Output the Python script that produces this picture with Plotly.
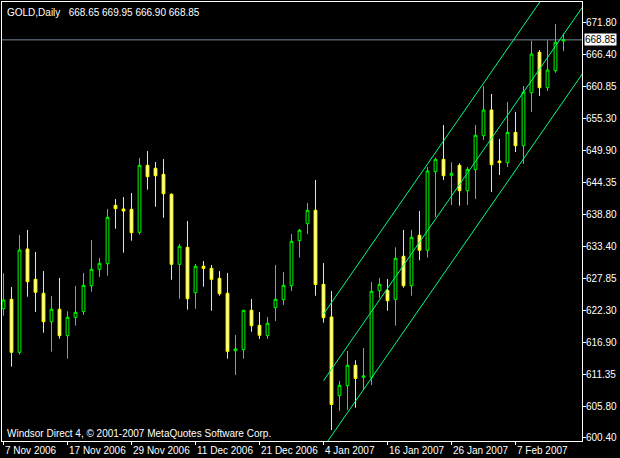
import plotly.graph_objects as go

# ---------------- data ----------------
dates = [
    "2006-11-07", "2006-11-08", "2006-11-09", "2006-11-10", "2006-11-13", "2006-11-14",
    "2006-11-15", "2006-11-16", "2006-11-17", "2006-11-20", "2006-11-21", "2006-11-22",
    "2006-11-23", "2006-11-24", "2006-11-27", "2006-11-28", "2006-11-29", "2006-11-30",
    "2006-12-01", "2006-12-04", "2006-12-05", "2006-12-06", "2006-12-07", "2006-12-08",
    "2006-12-11", "2006-12-12", "2006-12-13", "2006-12-14", "2006-12-15", "2006-12-18",
    "2006-12-19", "2006-12-20", "2006-12-21", "2006-12-22", "2006-12-26", "2006-12-27",
    "2006-12-28", "2006-12-29", "2007-01-02", "2007-01-03", "2007-01-04", "2007-01-05",
    "2007-01-08", "2007-01-09", "2007-01-10", "2007-01-11", "2007-01-12", "2007-01-15",
    "2007-01-16", "2007-01-17", "2007-01-18", "2007-01-19", "2007-01-22", "2007-01-23",
    "2007-01-24", "2007-01-25", "2007-01-26", "2007-01-29", "2007-01-30", "2007-01-31",
    "2007-02-01", "2007-02-02", "2007-02-05", "2007-02-06", "2007-02-07", "2007-02-08",
    "2007-02-09", "2007-02-12", "2007-02-13", "2007-02-14", "2007-02-15",
]

open_ = [
    622.63, 624.24, 615.13, 632.89, 627.68, 625.28, 620.39, 622.53, 617.99, 621.15,
    622.11, 626.58, 629.40, 630.36, 640.40, 639.77, 639.72, 635.76, 647.28, 646.77,
    645.73, 642.30, 630.26, 633.18, 625.38, 629.92, 629.57, 627.85, 625.28, 615.41,
    615.58, 622.35, 619.77, 617.99, 622.80, 624.18, 626.58, 634.32, 637.24, 639.55,
    626.82, 621.20, 607.67, 609.39, 612.90, 610.83, 610.83, 625.72, 625.79, 624.24,
    631.64, 626.58, 635.25, 632.67, 646.18, 648.31, 645.56, 647.28, 642.91, 646.53,
    652.37, 656.79, 648.02, 647.73, 652.95, 650.65, 659.76, 666.71, 660.62, 663.55,
    668.65,
]
high = [
    628.71, 626.36, 635.30, 636.16, 632.38, 629.11, 624.81, 627.91, 622.18, 626.53,
    628.77, 634.44, 631.34, 639.77, 641.49, 641.83, 642.52, 648.54, 649.74, 647.85,
    648.36, 642.47, 633.75, 637.71, 630.31, 630.83, 630.14, 629.11, 628.77, 618.11,
    622.40, 624.30, 622.06, 621.20, 630.14, 628.94, 635.47, 636.33, 640.80, 644.75,
    630.49, 625.67, 610.20, 615.36, 613.76, 615.87, 627.22, 627.91, 627.73, 633.18,
    636.16, 636.16, 639.42, 646.99, 648.59, 654.21, 647.80, 647.63, 646.99, 654.21,
    660.91, 659.54, 651.80, 658.16, 656.44, 660.91, 668.70, 667.10, 668.77, 671.57,
    669.95,
]
low = [
    621.42, 612.66, 614.72, 624.69, 622.06, 618.50, 615.24, 617.47, 614.03, 619.71,
    621.55, 625.55, 628.08, 628.30, 636.38, 632.26, 634.32, 635.35, 643.09, 640.16,
    638.27, 627.61, 624.35, 622.46, 622.63, 626.41, 622.28, 624.86, 614.03, 611.23,
    614.03, 618.67, 617.42, 617.42, 620.51, 623.26, 625.67, 631.40, 635.47, 624.86,
    620.22, 601.77, 605.04, 605.21, 605.61, 608.65, 609.51, 624.42, 622.28, 619.71,
    626.24, 624.86, 630.95, 631.40, 638.39, 644.75, 640.46, 640.34, 640.46, 641.49,
    651.63, 642.69, 645.61, 646.99, 649.57, 647.51, 656.44, 659.20, 660.06, 663.20,
    666.90,
]
close = [
    624.12, 615.13, 632.72, 627.27, 625.45, 620.39, 622.53, 617.99, 621.15, 622.01,
    626.65, 629.40, 630.43, 638.34, 639.82, 639.42, 635.69, 647.28, 645.32, 645.49,
    642.40, 630.26, 633.36, 624.35, 629.92, 629.57, 627.68, 625.21, 615.30, 615.70,
    622.35, 619.71, 618.06, 620.12, 624.24, 626.65, 634.22, 636.11, 639.55, 626.79,
    621.08, 606.16, 609.46, 612.90, 610.63, 611.06, 625.62, 626.82, 624.00, 631.29,
    626.58, 634.90, 632.67, 646.30, 648.31, 645.49, 645.91, 642.91, 646.59, 652.44,
    656.79, 647.38, 647.73, 652.95, 650.65, 659.88, 666.42, 660.62, 663.67, 668.43,
    668.85,
]

# x-axis labels (dates shown under the chart)
tick_dates = ["2006-11-07", "2006-11-17", "2006-11-29", "2006-12-11", "2006-12-21",
              "2007-01-04", "2007-01-16", "2007-01-26", "2007-02-07"]
tick_labels = ["7 Nov 2006", "17 Nov 2006", "29 Nov 2006", "11 Dec 2006", "21 Dec 2006",
               "4 Jan 2007", "16 Jan 2007", "26 Jan 2007", "7 Feb 2007"]

# price-scale labels
price_ticks = [600.40, 605.80, 611.35, 616.90, 622.30, 627.85, 633.40, 638.80,
               644.35, 649.90, 655.30, 660.85, 666.40, 671.80]

# equidistant channel: middle line through two anchors, parallel lines at +/- width
channel_dates = ["2007-01-04", "2007-02-15"]
channel_mid = [610.25, 669.78]
channel_width = 11.45

symbol = "GOLD,Daily"
copyright_text = "Windsor Direct 4, © 2001-2007 MetaQuotes Software Corp."

# ---------------- figure ----------------
FONT = "Liberation Sans, Arial, sans-serif"
bars = list(range(len(dates)))
idx = {d: i for i, d in enumerate(dates)}

x_lo, x_hi = -0.1875, 72.3125
y_lo, y_hi = 599.88, 675.36

fig = go.Figure()
fig.add_trace(go.Candlestick(
    x=bars, open=open_, high=high, low=low, close=close,
    increasing=dict(line=dict(color="#00FF00", width=1), fillcolor="#000000"),
    decreasing=dict(line=dict(color="#FFFF00", width=1), fillcolor="#FFFFFF"),
    whiskerwidth=0, hoverinfo="skip", showlegend=False,
))

# channel lines (rays extended to the right edge)
b0, b1 = idx[channel_dates[0]], idx[channel_dates[1]]
slope = (channel_mid[1] - channel_mid[0]) / (b1 - b0)
x_end = x_hi + 2
for off in (channel_width, 0.0, -channel_width):
    ys = [channel_mid[0] + off, channel_mid[0] + off + slope * (x_end - b0)]
    fig.add_trace(go.Scatter(
        x=[b0, x_end], y=ys, mode="lines",
        line=dict(color="#00FF7F", width=1),
        hoverinfo="skip", showlegend=False,
    ))

# bid line
last = close[-1]
fig.add_shape(type="line", xref="paper", x0=0, x1=1, yref="y", y0=last, y1=last,
              line=dict(color="#778899", width=1), layer="below")

# price-scale labels (left-aligned just right of the scale)
for v in price_ticks:
    fig.add_annotation(xref="paper", x=1, xanchor="left", xshift=3,
                       yref="y", y=v, yanchor="middle",
                       text=f"{v:.2f}", showarrow=False, borderpad=0,
                       font=dict(family=FONT, size=10, color="#FFFFFF"))

# bid price label
fig.add_annotation(xref="paper", x=1, xanchor="left", xshift=2,
                   yref="y", y=last, yanchor="middle",
                   text=f"{last:.2f}", showarrow=False,
                   bgcolor="#FFFFFF", borderpad=0,
                   font=dict(family=FONT, size=10, color="#000000"))

# date labels (start at their tick, below the axis)
for d, lab in zip(tick_dates, tick_labels):
    fig.add_annotation(xref="x", x=idx[d], xanchor="left", xshift=0,
                       yref="paper", y=0, yanchor="top", yshift=-3,
                       text=lab, showarrow=False, borderpad=0,
                       font=dict(family=FONT, size=10, color="#FFFFFF"))

fig.add_annotation(xref="paper", x=0, xanchor="left", xshift=3,
                   yref="paper", y=1, yanchor="top", yshift=-3,
                   text=f"{symbol}\u00a0\u00a0 {open_[-1]:.2f} {high[-1]:.2f} {low[-1]:.2f} {close[-1]:.2f}",
                   showarrow=False,
                   font=dict(family=FONT, size=10, color="#FFFFFF"))

fig.add_annotation(xref="paper", x=0, xanchor="left", xshift=3,
                   yref="paper", y=0, yanchor="bottom", yshift=0,
                   text=copyright_text, showarrow=False,
                   font=dict(family=FONT, size=10, color="#FFFFFF"))

fig.update_layout(
    width=620, height=458,
    margin=dict(l=2, r=38, t=2, b=17),
    paper_bgcolor="#000000", plot_bgcolor="#000000",
    showlegend=False,
    boxgap=0.5,
    font=dict(family=FONT, size=10, color="#FFFFFF"),
    xaxis=dict(
        range=[x_lo, x_hi], rangeslider=dict(visible=False),
        showgrid=False, zeroline=False,
        showline=True, linecolor="#FFFFFF", linewidth=1, mirror=True,
        ticks="outside", ticklen=3, tickcolor="#FFFFFF", tickwidth=1,
        tickvals=[idx[d] for d in tick_dates], showticklabels=False,
    ),
    yaxis=dict(
        side="right", range=[y_lo, y_hi],
        showgrid=False, zeroline=False,
        showline=True, linecolor="#FFFFFF", linewidth=1, mirror=True,
        ticks="outside", ticklen=3, tickcolor="#FFFFFF", tickwidth=1,
        tickvals=price_ticks, showticklabels=False,
    ),
)

fig.write_html(
    "out.html",
    config={"displayModeBar": False},
    post_script=(
        "document.documentElement.style.margin='0';"
        "document.body.style.margin='0';document.body.style.padding='0';"
        "document.body.style.background='#000';document.body.style.overflow='hidden';"
    ),
)
